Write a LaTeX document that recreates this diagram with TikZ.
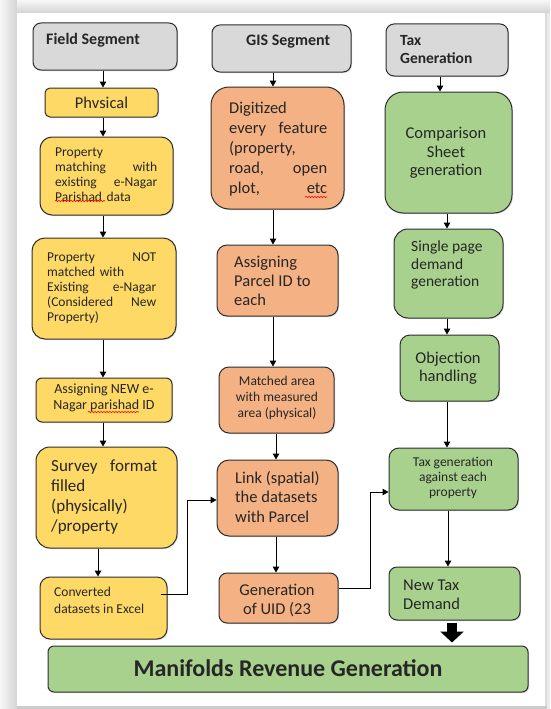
\documentclass[tikz,border=0pt]{standalone}
\usepackage{fontspec}
\setmainfont{Carlito}
\usetikzlibrary{arrows.meta,decorations.pathmorphing,shadows}
\definecolor{hdr}{HTML}{D9D9D9}
\definecolor{yel}{HTML}{FFD966}
\definecolor{org}{HTML}{F4B183}
\definecolor{grn}{HTML}{A9D18E}
\definecolor{edge}{HTML}{2E2E2E}
\definecolor{ink}{HTML}{262626}
\newcommand\fL{\fontsize{16.5}{19.5}\selectfont}
\newcommand\fS{\fontsize{13.5}{15}\selectfont}
\newcommand\mkbox[7]{%
  \pgfmathsetmacro\bxcx{(#2+#4)/2}\pgfmathsetmacro\bxcy{(#3+#5)/2}%
  \pgfmathsetmacro\bxw{#4-#2}\pgfmathsetmacro\bxh{#5-#3}%
  \node[boxed,fill=#6,rounded corners=#7pt,minimum width=\bxw pt,minimum height=\bxh pt] (#1) at (\bxcx,\bxcy) {};}
\begin{document}
\begin{tikzpicture}[x=1pt,y=-1pt,
  boxed/.style={draw=edge,line width=1pt,inner sep=0pt,drop shadow={shadow xshift=1pt,shadow yshift=-1pt,opacity=0.3}},
  txt/.style={inner sep=0pt,text=ink},
  arr/.style={draw=black,line width=1pt,-{Triangle[length=6pt,width=6.5pt]}},
  squig/.style={red,line width=0.6pt,decorate,decoration={snake,amplitude=0.7pt,segment length=3pt}}]
\useasboundingbox (0,0) rectangle (550,709);
% page frame
\fill[gray!12] (0,0) rectangle (550,709);
\shade[left color=gray!6,right color=gray!34] (0,0) rectangle (17,709);
\shade[top color=gray!6,bottom color=gray!34] (17,0) rectangle (550,13);
\fill[gray!28] (545,13) rectangle (547,709);
\fill[gray!16] (547,13) rectangle (550,709);
\fill[gray!40] (17,706) rectangle (547,709);
\fill[white] (17,13) rectangle (545,706);
% boxes
\mkbox{fs}{33}{23}{177}{70}{hdr}{8}
\mkbox{gis}{212}{25}{351}{72}{hdr}{8}
\mkbox{tax}{386}{24}{508}{76}{hdr}{8}
\mkbox{phys}{45}{88}{158}{117}{yel}{5}
\mkbox{pm}{40}{137}{173}{215}{yel}{12}
\mkbox{pnot}{32}{238}{176}{339}{yel}{13}
\mkbox{anew}{36}{378}{172}{422}{yel}{6}
\mkbox{surv}{36}{447}{177}{548}{yel}{14}
\mkbox{conv}{40}{577}{167}{639}{yel}{10}
\mkbox{dig}{211}{87}{344}{209}{org}{18}
\mkbox{apid}{217}{245}{338}{316}{org}{10}
\mkbox{mat}{219}{367}{334}{433}{org}{10}
\mkbox{link}{217}{460}{338}{536}{org}{12}
\mkbox{gen}{219}{573}{338}{623}{org}{8}
\mkbox{comp}{385}{92}{512}{213}{grn}{18}
\mkbox{spd}{394}{229}{503}{318}{grn}{14}
\mkbox{obj}{400}{335}{499}{401}{grn}{10}
\mkbox{tg}{389}{448}{518}{510}{grn}{10}
\mkbox{ntd}{389}{567}{520}{620}{grn}{8}
\mkbox{man}{48}{646}{528}{692}{grn}{6}
% texts
\node[txt,anchor=west,font=\fontsize{16}{19}\selectfont\bfseries] (fs-t) at (46,40) {Field Segment};
\node[txt,anchor=west,font=\fontsize{16}{19}\selectfont\bfseries] (gis-t) at (246,42) {GIS Segment};
\node[txt,anchor=west,align=left,font=\fontsize{15.5}{18}\selectfont\bfseries] (tax-t) at (400,50) {Tax\\Generation};
\node[txt,font=\fL] (phys-t) at (101.5,102.5) {Phvsical};
\node[txt,anchor=west,text width=102pt,align=left,font=\fS] (pm-t) at (55,175) {Property\\matching\hfill with\\existing\hfill e-Nagar\\Parishad data};
\node[txt,anchor=west,text width=109pt,align=left,font=\fS] (pnot-t) at (47,288) {Property\hfill NOT\\matched with\\Existing\hfill e-Nagar\\(Considered\hfill New\\Property)};
\node[txt,align=center,font=\fontsize{14}{16}\selectfont] (anew-t) at (104,398) {Assigning NEW e-\\Nagar parishad ID};
\node[txt,anchor=west,text width=106pt,align=left,font=\fontsize{17}{20}\selectfont] (surv-t) at (51,497) {Survey\hfill format\\filled\\(physically)\\/property};
\node[txt,anchor=west,align=left,font=\fontsize{13.5}{17}\selectfont] (conv-t) at (54,600) {Converted\\datasets in Excel};
\node[txt,anchor=west,text width=98pt,align=left,font=\fontsize{16.5}{20}\selectfont] (dig-t) at (229,149) {Digitized\\every\hfill feature\\(property,\\road,\hfill open\\plot,\hfill etc};
\node[txt,anchor=west,align=left,font=\fontsize{16.5}{19}\selectfont] (apid-t) at (234,281) {Assigning\\Parcel ID to\\each};
\node[txt,align=center,font=\fontsize{13.5}{16}\selectfont] (mat-t) at (277,398) {Matched area\\with measured\\area (physical)};
\node[txt,anchor=west,align=left,font=\fL] (link-t) at (235,497) {Link (spatial)\\the datasets\\with Parcel};
\node[txt,align=center,font=\fontsize{16.5}{19}\selectfont] (gen-t) at (277,600) {Generation\\of UID (23};
\node[txt,align=center,font=\fontsize{16.5}{18.5}\selectfont] (comp-t) at (446,153) {Comparison\\Sheet\\generation};
\node[txt,anchor=west,align=left,font=\fontsize{15.5}{17.5}\selectfont] (spd-t) at (411,265) {Single page\\demand\\generation};
\node[txt,align=center,font=\fontsize{16.5}{17.5}\selectfont] (obj-t) at (448,368) {Objection\\handling};
\node[txt,align=center,font=\fS] (tg-t) at (453,478) {Tax generation\\against each\\property};
\node[txt,anchor=west,align=left,font=\fontsize{16.5}{19}\selectfont] (ntd-t) at (403,595) {New Tax\\Demand};
\node[txt,font=\fontsize{24}{28}\selectfont\bfseries] (man-t) at (288,668) {Manifolds Revenue Generation};
% spelling marks
\draw[squig] (55,201) -- (105,201);
\draw[squig] (88,412) -- (139,412);
\draw[squig] (305,197) -- (327,197);
% column x references
\coordinate (cf) at (103,0);
\coordinate (cf2) at (98,0);
\coordinate (cg) at (273,0);
\coordinate (cg2) at (276,0);
\coordinate (ct0) at (440,0);
\coordinate (ct) at (447,0);
\coordinate (ct2) at (448,0);
% vertical connectors
\draw[arr] (fs.south -| cf) -- (phys.north -| cf);
\draw[arr] (phys.south -| cf) -- (pm.north -| cf);
\draw[arr] (pm.south -| cf) -- (pnot.north -| cf);
\draw[arr] (pnot.south -| cf) -- (anew.north -| cf);
\draw[arr] (anew.south -| cf) -- (surv.north -| cf);
\draw[arr] (surv.south -| cf2) -- (conv.north -| cf2);
\draw[arr] (gis.south -| cg) -- (dig.north -| cg);
\draw[arr] (dig.south -| cg) -- (apid.north -| cg);
\draw[arr] (apid.south -| cg) -- (mat.north -| cg);
\draw[arr] (mat.south -| cg2) -- (link.north -| cg2);
\draw[arr] (link.south -| cg2) -- (gen.north -| cg2);
\draw[arr] (tax.south -| ct0) -- (comp.north -| ct0);
\draw[arr] (comp.south -| ct) -- (spd.north -| ct);
\draw[arr] (spd.south -| ct) -- (obj.north -| ct);
\draw[arr] (obj.south -| ct) -- (tg.north -| ct);
\draw[arr] (tg.south -| ct2) -- (ntd.north -| ct2);
% elbow connectors
\draw[arr] ([xshift=-7pt,yshift=14pt]conv.east) -- ++(27,0) |- ([yshift=-2pt]link.west);
\draw[arr] ([yshift=10pt]gen.east) -- ++(32,0) |- ([yshift=-13pt]tg.west);
% block arrow
\draw[line width=10pt,shorten <=2pt,shorten >=3pt,-{Triangle[length=11pt,width=23pt]}] ([xshift=-2.5pt]ntd.south) -- ([xshift=-2.5pt]ntd.south |- man.north);
\end{tikzpicture}
\end{document}
